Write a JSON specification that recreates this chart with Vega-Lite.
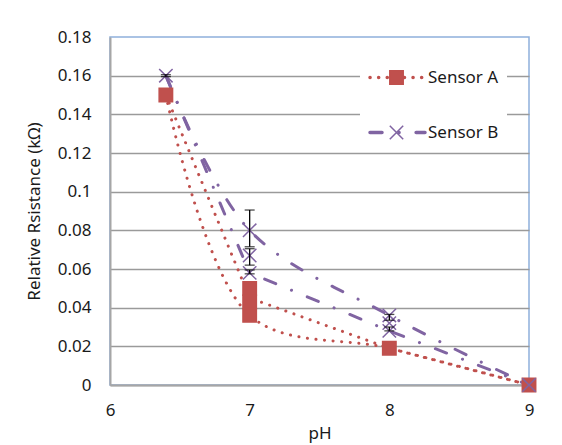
{
  "$schema": "https://vega.github.io/schema/vega-lite/v6.json",
  "width": 419,
  "height": 348,
  "autosize": {"type": "none"},
  "padding": {"left": 110, "top": 37, "right": 33, "bottom": 60},
  "background": "white",
  "config": {
    "font": "Noto Sans",
    "view": {"stroke": "#8FB0DC", "strokeWidth": 1.5},
    "axis": {
      "labelFont": "Noto Sans",
      "titleFont": "Noto Sans",
      "labelFontSize": 17,
      "titleFontSize": 17,
      "labelColor": "#1a1a1a",
      "titleColor": "#1a1a1a",
      "titleFontWeight": "normal",
      "ticks": false,
      "labelOverlap": false,
      "labelFlush": false,
      "domainColor": "#A6A6A6",
      "domainWidth": 2
    }
  },
  "datasets": {
    "lines": [
      {"pH": 6.4, "value": 0.15, "sensor": "Sensor A", "curve": "straight"},
      {"pH": 7, "value": 0.045, "sensor": "Sensor A", "curve": "straight"},
      {"pH": 8, "value": 0.019, "sensor": "Sensor A", "curve": "straight"},
      {"pH": 9, "value": 0, "sensor": "Sensor A", "curve": "straight"},
      {"pH": 6.4, "value": 0.15, "sensor": "Sensor A", "curve": "smooth"},
      {"pH": 7, "value": 0.036, "sensor": "Sensor A", "curve": "smooth"},
      {"pH": 8, "value": 0.019, "sensor": "Sensor A", "curve": "smooth"},
      {"pH": 9, "value": 0, "sensor": "Sensor A", "curve": "smooth"},
      {"pH": 6.4, "value": 0.16, "sensor": "Sensor B", "curve": "straight"},
      {"pH": 7, "value": 0.058, "sensor": "Sensor B", "curve": "straight"},
      {"pH": 8, "value": 0.028, "sensor": "Sensor B", "curve": "straight"},
      {"pH": 9, "value": 0, "sensor": "Sensor B", "curve": "straight"},
      {"pH": 6.4, "value": 0.16, "sensor": "Sensor B", "curve": "smooth"},
      {"pH": 7, "value": 0.08, "sensor": "Sensor B", "curve": "smooth"},
      {"pH": 8, "value": 0.036, "sensor": "Sensor B", "curve": "smooth"},
      {"pH": 9, "value": 0, "sensor": "Sensor B", "curve": "smooth"}
    ],
    "points": [
      {"pH": 6.4, "value": 0.15, "sensor": "Sensor A"},
      {"pH": 7, "value": 0.05, "sensor": "Sensor A"},
      {"pH": 7, "value": 0.043, "sensor": "Sensor A"},
      {"pH": 7, "value": 0.036, "sensor": "Sensor A"},
      {"pH": 8, "value": 0.019, "sensor": "Sensor A"},
      {"pH": 9, "value": 0, "sensor": "Sensor A"},
      {"pH": 6.4, "value": 0.16, "sensor": "Sensor B"},
      {"pH": 7, "value": 0.08, "sensor": "Sensor B"},
      {"pH": 7, "value": 0.067, "sensor": "Sensor B"},
      {"pH": 7, "value": 0.058, "sensor": "Sensor B"},
      {"pH": 8, "value": 0.036, "sensor": "Sensor B"},
      {"pH": 8, "value": 0.032, "sensor": "Sensor B"},
      {"pH": 8, "value": 0.028, "sensor": "Sensor B"},
      {"pH": 9, "value": 0, "sensor": "Sensor B"}
    ],
    "errors": [
      {"pH": 6.4, "lo": 0.1595, "hi": 0.1605},
      {"pH": 7, "lo": 0.0715, "hi": 0.0905},
      {"pH": 7, "lo": 0.062, "hi": 0.0705},
      {"pH": 7, "lo": 0.0575, "hi": 0.0595},
      {"pH": 8, "lo": 0.0335, "hi": 0.0365},
      {"pH": 8, "lo": 0.028, "hi": 0.03}
    ]
  },
  "encoding": {
    "x": {
      "field": "pH",
      "type": "quantitative",
      "scale": {"domain": [6, 9], "nice": false, "zero": false},
      "axis": {"values": [6, 7, 8, 9], "format": "d", "tickCount": 20, "grid": false, "labelFlush": false, "labelPadding": 17, "title": "pH", "titleX": 209.5, "titleY": 53, "titleBaseline": "alphabetic", "titleAlign": "center"}
    }
  },
  "layer": [
    {
      "data": {"name": "lines"},
      "transform": [{"filter": "datum.curve === 'straight'"}],
      "mark": {"type": "line", "strokeWidth": 3, "strokeCap": "round", "interpolate": "linear"},
      "encoding": {
        "y": {
          "field": "value",
          "type": "quantitative",
          "title": "Relative Rsistance (kΩ)",
          "scale": {"domain": [0, 0.18], "nice": false},
          "axis": {
            "values": [0, 0.02, 0.04, 0.06, 0.08, 0.1, 0.12, 0.14, 0.16, 0.18],
            "tickCount": 20,
            "format": "~g",
            "labelOverlap": false,
            "labelBound": false,
            "labelFlush": false,
            "labelPadding": 19,
            "grid": true,
            "gridColor": "#9A9A9A",
            "gridWidth": 1.4,
            "gridOpacity": {"condition": {"test": "datum.value > 0.17", "value": 0}, "value": 1},
            "titleX": -76,
            "titleY": 174,
            "titleAngle": 270,
            "titleBaseline": "middle",
            "titleAlign": "center"
          }
        },
        "color": {
          "field": "sensor",
          "type": "nominal",
          "scale": {"domain": ["Sensor A", "Sensor B"], "range": ["#C0504D", "#8064A2"]},
          "legend": {"orient": "none", "legendX": 250, "legendY": 3, "title": null, "padding": 8, "fillColor": "white", "symbolType": "stroke", "symbolSize": 3025, "symbolStrokeWidth": 3.5, "labelFontSize": 17, "labelFont": "Noto Sans", "labelColor": "#1a1a1a", "labelOffset": 1, "rowPadding": 17, "zindex": 1, "encode": {"symbols": {"update": {"strokeCap": {"value": "round"}}}}}
        },
        "strokeDash": {
          "field": "sensor",
          "type": "nominal",
          "scale": {"domain": ["Sensor A", "Sensor B"], "range": [[0.1, 8.5], [12, 17, 0.1, 17]]},
          "legend": {"orient": "none", "legendX": 250, "legendY": 3, "title": null, "padding": 8, "fillColor": "white", "symbolType": "stroke", "symbolSize": 3025, "symbolStrokeWidth": 3.5, "labelFontSize": 17, "labelFont": "Noto Sans", "labelColor": "#1a1a1a", "labelOffset": 1, "rowPadding": 17, "zindex": 1, "encode": {"symbols": {"update": {"strokeCap": {"value": "round"}}}}}
        }
      }
    },
    {
      "data": {"name": "lines"},
      "transform": [{"filter": "datum.curve === 'smooth'"}],
      "mark": {"type": "line", "strokeWidth": 3, "strokeCap": "round", "interpolate": "catmull-rom"},
      "encoding": {
        "y": {"field": "value", "type": "quantitative", "title": "Relative Rsistance (kΩ)"},
        "color": {"field": "sensor", "type": "nominal"},
        "strokeDash": {"field": "sensor", "type": "nominal"}
      }
    },
    {
      "data": {"name": "points"},
      "mark": {"type": "point", "strokeWidth": 1.5, "opacity": 1, "size": 180},
      "encoding": {
        "y": {"field": "value", "type": "quantitative", "title": "Relative Rsistance (kΩ)"},
        "shape": {
          "field": "sensor",
          "type": "nominal",
          "scale": {"range": ["square", "M-1,-1L1,1M-1,1L1,-1"]},
          "legend": {"orient": "none", "legendX": 278, "legendY": 32, "title": null, "padding": 0, "symbolSize": 180, "symbolStrokeWidth": 1.5, "labelOpacity": 0, "labelExpr": "''", "labelFontSize": 17, "rowPadding": 34, "zindex": 2}
        },
        "fill": {
          "field": "sensor",
          "type": "nominal",
          "scale": {"range": ["#C0504D", "rgba(0,0,0,0)"]},
          "legend": {"orient": "none", "legendX": 278, "legendY": 32, "title": null, "padding": 0, "symbolSize": 180, "symbolStrokeWidth": 1.5, "labelOpacity": 0, "labelExpr": "''", "labelFontSize": 17, "rowPadding": 34, "zindex": 2}
        },
        "stroke": {
          "field": "sensor",
          "type": "nominal",
          "scale": {"range": ["#C0504D", "#8064A2"]},
          "legend": {"orient": "none", "legendX": 278, "legendY": 32, "title": null, "padding": 0, "symbolSize": 180, "symbolStrokeWidth": 1.5, "labelOpacity": 0, "labelExpr": "''", "labelFontSize": 17, "rowPadding": 34, "zindex": 2}
        }
      }
    },
    {
      "data": {"name": "errors"},
      "mark": {"type": "errorbar", "ticks": true, "size": 10, "thickness": 1.3, "color": "#000000"},
      "encoding": {
        "y": {"field": "lo", "type": "quantitative", "title": "Relative Rsistance (kΩ)"},
        "y2": {"field": "hi"}
      }
    }
  ]
}
